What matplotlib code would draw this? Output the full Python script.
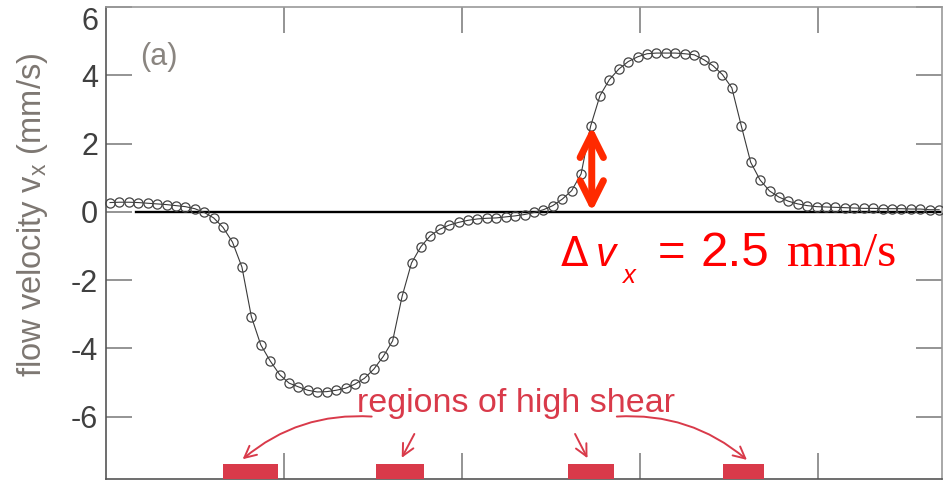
"""
flow velocity profile v_x with high-shear regions marked
"""

import numpy as np
import matplotlib
matplotlib.use('Agg')
import matplotlib.pyplot as plt
from matplotlib.patches import Rectangle

plt.rcParams['font.family'] = ['Liberation Sans', 'DejaVu Sans']
plt.rcParams['axes.unicode_minus'] = False
plt.rcParams['mathtext.fontset'] = 'custom'
plt.rcParams['mathtext.rm'] = 'Liberation Sans'

# ── 数据 ──
X_START = 0.02      # first sample position
X_STEP = 0.053      # sample spacing
vx = [0.27, 0.28, 0.28, 0.27, 0.25, 0.23, 0.21, 0.18, 0.15, 0.09,
      -0.02, -0.18, -0.46, -0.89, -1.62, -3.07, -3.90, -4.37, -4.77, -5.02,
      -5.13, -5.23, -5.28, -5.27, -5.23, -5.17, -5.05, -4.88, -4.61, -4.24,
      -3.78, -2.48, -1.50, -1.02, -0.70, -0.51, -0.39, -0.31, -0.25, -0.21,
      -0.19, -0.18, -0.15, -0.12, -0.08, -0.02, 0.06, 0.18, 0.37, 0.62,
      1.11, 2.50, 3.40, 3.87, 4.18, 4.40, 4.54, 4.63, 4.65, 4.65,
      4.65, 4.63, 4.60, 4.46, 4.28, 4.02, 3.63, 2.52, 1.45, 0.93,
      0.61, 0.43, 0.31, 0.23, 0.18, 0.15, 0.14, 0.13, 0.12, 0.11,
      0.10, 0.10, 0.09, 0.09, 0.09, 0.08, 0.08, 0.06, 0.06]

delta_vx = 2.5          # mm/s, marked by the double arrow
delta_x = 2.73          # where the arrow sits

# 高剪切区域 (x_start, x_end)
shear_regions = [(0.654, 0.966), (1.516, 1.787), (2.599, 2.854), (3.469, 3.700)]

y_ticks = [-6, -4, -2, 0, 2, 4, 6]
x_ticks = [1, 2, 3, 4]

RED = '#ff0000'
ARROW_RED = '#ff2a00'
SHEAR_RED = '#d93a4a'
GRAY_TXT = '#7d7772'

x = X_START + X_STEP * np.arange(len(vx))

fig = plt.figure(figsize=(9.43, 4.82), dpi=100)
ax = fig.add_axes([0.1129, 0.0062, 0.886, 0.9793])

ax.set_xlim(0, 4.7)
ax.set_ylim(-7.83, 6)

# 零线
ax.plot([0.166, 4.7], [0, 0], color='black', lw=1.7, zorder=2)

# 速度剖面
ax.plot(x, vx, color='#3a3a3a', lw=0.8, marker='o', markersize=6.6,
        mfc='none', mec='#444444', mew=0.9, zorder=3, clip_on=False)

# 高剪切区域标记
for x0, x1 in shear_regions:
    ax.add_patch(Rectangle((x0, -7.83), x1 - x0, 0.43, facecolor=SHEAR_RED,
                           edgecolor='none', zorder=4))

ax.text(1.407, -5.86, 'regions of high shear', color=SHEAR_RED, fontsize=24.5,
        ha='left', va='baseline')

arrow_kw = dict(arrowstyle='->, head_length=0.7, head_width=0.35',
                color=SHEAR_RED, lw=1.4, shrinkA=0, shrinkB=0, mutation_scale=12)
ax.annotate('', xy=(0.766, -7.25), xytext=(1.492, -6.00),
            arrowprops=dict(connectionstyle='arc3,rad=0.2', **arrow_kw))
ax.annotate('', xy=(1.661, -7.21), xytext=(1.732, -6.51),
            arrowprops=dict(**arrow_kw))
ax.annotate('', xy=(2.706, -7.22), xytext=(2.636, -6.51),
            arrowprops=dict(**arrow_kw))
ax.annotate('', xy=(3.603, -7.27), xytext=(2.871, -6.00),
            arrowprops=dict(connectionstyle='arc3,rad=-0.2', **arrow_kw))

# Δv_x 双向箭头
ax.annotate('', xy=(delta_x, delta_vx), xytext=(delta_x, 0),
            arrowprops=dict(arrowstyle='<->, head_length=0.6, head_width=0.3',
                            color=ARROW_RED, lw=5, shrinkA=0, shrinkB=0,
                            mutation_scale=28, capstyle='round', joinstyle='round'),
            zorder=5)

# Δv_x = 2.5 mm/s
base_y = -1.60
ax.text(2.555, base_y, '\u0394', color=RED, fontsize=29, family='DejaVu Sans',
        ha='left', va='baseline')
ax.text(2.752, base_y, 'v', color=RED, fontsize=29, style='italic',
        ha='left', va='baseline')
ax.text(2.900, -2.09, 'x', color=RED, fontsize=18.5, style='italic',
        ha='left', va='baseline')
ax.text(3.104, base_y, '=', color=RED, fontsize=34, ha='left', va='baseline')
ax.text(3.340, base_y, f'{delta_vx}', color=RED, fontsize=35.5,
        ha='left', va='baseline')
ax.text(3.828, base_y, 'mm/s', color=RED, fontsize=35.5, family='Liberation Serif',
        ha='left', va='baseline')

ax.text(0.188, 4.53, '(a)', color='#8a8580', fontsize=22, ha='left', va='center')

# ── 坐标轴 ──
ax.set_yticks(y_ticks)
ax.set_yticklabels([str(v) for v in y_ticks])
ax.set_xticks(x_ticks)
ax.set_xticklabels([])
ax.tick_params(direction='in', length=18.7, width=1.1, color='#777777',
               top=True, right=True, labelsize=22, labelcolor='#404040', pad=6)
# 顶部标签下移，避免被裁掉
ax.get_yticklabels()[-1].set_va('top')
for side in ['left', 'bottom']:
    ax.spines[side].set_color('#555555')
    ax.spines[side].set_linewidth(1.2)
for side in ['top', 'right']:
    ax.spines[side].set_color('#999999')
    ax.spines[side].set_linewidth(1.2)

ax.set_ylabel(r'flow velocity $\mathregular{v_x}$ (mm/s)', fontsize=23.5,
              color=GRAY_TXT)
ax.yaxis.set_label_coords(-0.0676, 0.559)

fig.savefig('out.png', dpi=100, facecolor='white')
